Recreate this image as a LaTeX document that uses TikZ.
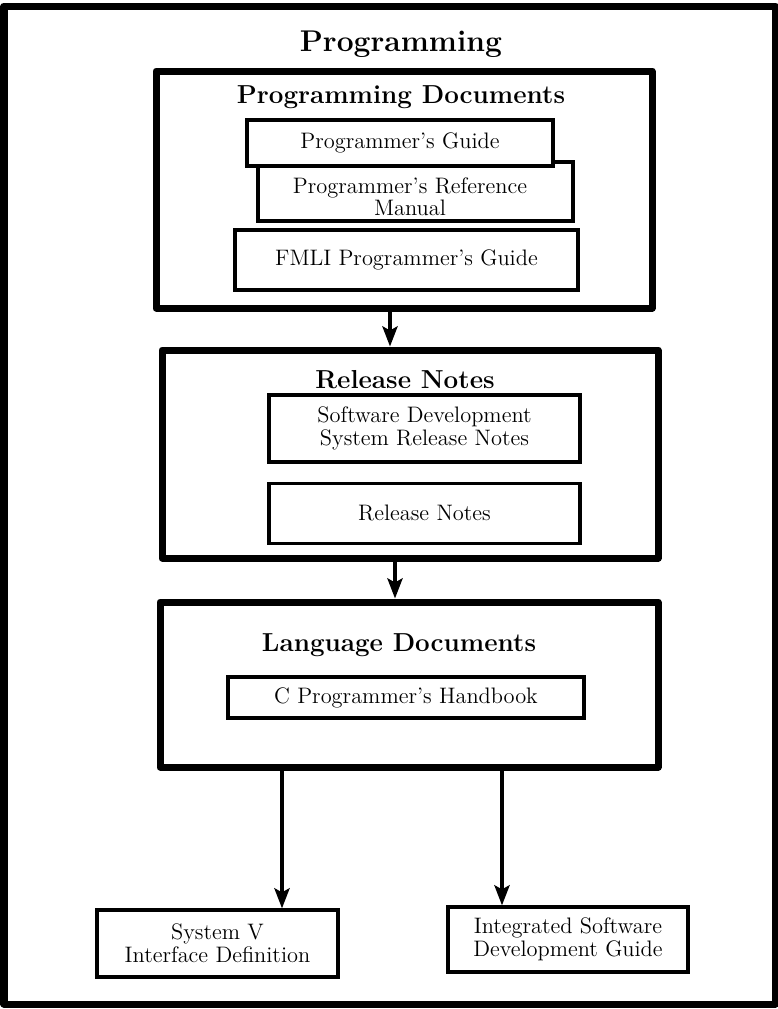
\documentclass[tikz,border=0pt]{standalone}
\usetikzlibrary{arrows.meta, positioning, fit}

\begin{document}
\begin{tikzpicture}[
	x=0.5pt, y=-0.5pt,
	group/.style={draw, line width=3.5pt, line join=round, inner sep=0pt},
	doc/.style={draw, line width=1.6pt, fill=white, align=center, inner sep=0pt,
		font=\fontsize{11.2}{11.5}\selectfont},
	head/.style={font=\fontsize{13}{15}\selectfont\bfseries},
	link/.style={->, line width=2pt},
	>={Stealth[length=10pt, width=7.5pt, inset=2pt]}
	]
	\useasboundingbox (0,0) rectangle (778,1009);
	\draw[line width=3.5pt, line join=round] (4,6) rectangle (775,1004);
	\node[font=\fontsize{15}{18}\selectfont\bfseries] (title) at (401,44) {Programming};
	
	\node[group, fit={(156,71) (652,308)}] (progdocs) {};
	\node[head] (progdocshd) at (401,97) {Programming Documents};
	\node[doc, minimum width=157.5pt, minimum height=29.5pt] (refman) at (415.5,191.5) {};
	\node[align=center, inner sep=0pt, font=\fontsize{11.2}{11}\selectfont] (refmantxt) at (410,197)
	{Programmer's Reference\\Manual};
	\node[doc, minimum width=153pt, minimum height=23pt] (progguide) at (400,143)
	{Programmer's Guide};
	\node[doc, minimum width=171.5pt, minimum height=30pt] (fmli) at (406.5,260)
	{FMLI Programmer's Guide};
	
	\node[group, fit={(162,350) (658,558)}] (relnotes) {};
	\node[head] (relnoteshd) at (405,380) {Release Notes};
	\node[doc, minimum width=155.5pt, minimum height=33.5pt] (sdsnotes) at (424.5,428.5)
	{Software Development\\System Release Notes};
	\node[doc, minimum width=155.5pt, minimum height=30pt] (notes) [below=9pt of sdsnotes]
	{Release Notes};
	
	\node[group, fit={(160,602) (658,767)}] (langdocs) {};
	\node[head] (langdocshd) at (399,645) {Language Documents};
	\node[doc, minimum width=178pt, minimum height=20.5pt] (chandbook) at (406,697.5)
	{C Programmer's Handbook};
	
	\node[doc, minimum width=120.5pt, minimum height=33.5pt] (svid) at (217.5,943.5)
	{System V\\Interface Definition};
	\node[doc, minimum width=120pt, minimum height=32.5pt] (isdg) at (568,939.5)
	{Integrated Software\\Development Guide};
	
	\draw[link] ([xshift=-7pt]progdocs.south) -- ([xshift=-7pt]progdocs.south |- relnotes.north);
	\draw[link] ([xshift=-7.5pt]relnotes.south) -- ([xshift=-7.5pt]relnotes.south |- langdocs.north);
	\draw[link] ([xshift=-63.5pt]langdocs.south) -- ([xshift=-63.5pt]langdocs.south |- svid.north);
	\draw[link] ([xshift=46.5pt]langdocs.south) -- ([xshift=46.5pt]langdocs.south |- isdg.north);
\end{tikzpicture}
\end{document}
